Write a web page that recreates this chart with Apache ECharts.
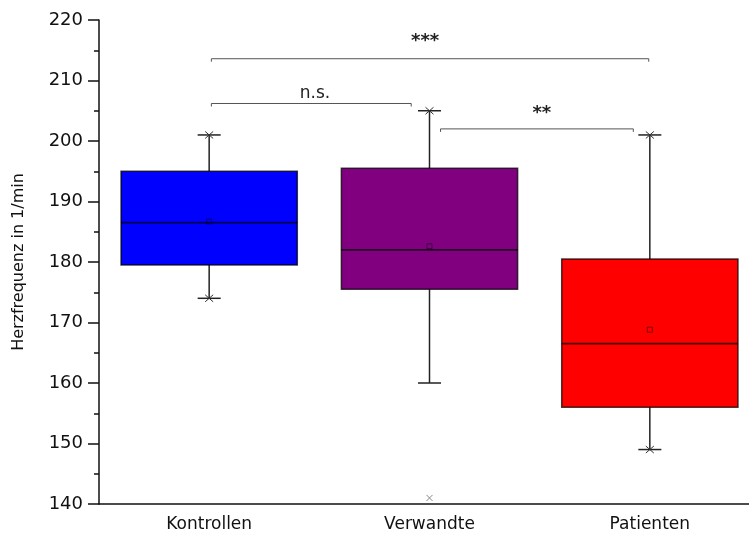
<!DOCTYPE html>
<html><head><meta charset="utf-8">
<script src="https://cdn.jsdelivr.net/npm/echarts@6/dist/echarts.min.js"></script>
<style>html,body{margin:0;padding:0;background:#fff}#c{width:749px;height:541px}</style>
</head><body><div id="c"></div>
<script>
// ---- data ----
const categories = ['Kontrollen', 'Verwandte', 'Patienten'];
const boxColors = ['#0000ff', '#800080', '#ff0000'];
// [whiskerLow, Q1, median, Q3, whiskerHigh]
const kontrollenBox = [174, 179.5, 186.5, 195, 201];
const verwandteBox = [160, 175.5, 182, 195.5, 205];
const patientenBox = [149, 156, 166.5, 180.5, 201];
const means = [186.7, 182.6, 168.8];
const extremeMarks = [[0, 174], [0, 201], [1, 205], [2, 149], [2, 201]];
const outliers = [[1, 141]];
const yMin = 140, yMax = 220, yStep = 10;
// significance brackets: [xFrom, xTo, y]
const brackets = [[0.01, 1.995, 213.6], [0.01, 0.917, 206.2], [1.05, 1.925, 202.0]];
// bracket labels: [x, y, text]
const bracketLabels = [[0.98, 216.5, '***'], [0.48, 207.8, 'n.s.'], [1.51, 204.6, '**']];
const yAxisTitle = 'Herzfrequenz in 1/min';

const boxes = [kontrollenBox, verwandteBox, patientenBox];
const FONT = '"DejaVu Sans", Arial, sans-serif';
const AX = '#111';

const chart = echarts.init(document.getElementById('c'), null, {renderer: 'canvas'});

function boxRender(params, api) {
  const i = api.value(0);
  const lo = api.coord([i, api.value(1)]);
  const q1 = api.coord([i, api.value(2)]);
  const med = api.coord([i, api.value(3)]);
  const q3 = api.coord([i, api.value(4)]);
  const hi = api.coord([i, api.value(5)]);
  const cx = lo[0];
  const halfW = api.size([0.8, 0])[0] / 2;
  const cap = 11.5;
  const wStyle = {stroke: '#222', lineWidth: 1.5};
  return {
    type: 'group',
    children: [
      {type: 'line', shape: {x1: cx, y1: hi[1], x2: cx, y2: q3[1]}, style: wStyle},
      {type: 'line', shape: {x1: cx, y1: q1[1], x2: cx, y2: lo[1]}, style: wStyle},
      {type: 'line', shape: {x1: cx - cap, y1: hi[1], x2: cx + cap, y2: hi[1]}, style: wStyle},
      {type: 'line', shape: {x1: cx - cap, y1: lo[1], x2: cx + cap, y2: lo[1]}, style: wStyle},
      {type: 'rect', shape: {x: cx - halfW, y: q3[1], width: 2 * halfW, height: q1[1] - q3[1]},
        style: {fill: boxColors[i], stroke: 'rgba(0,0,0,0.72)', lineWidth: 1.5}},
      {type: 'line', shape: {x1: cx - halfW, y1: med[1], x2: cx + halfW, y2: med[1]},
        style: {stroke: 'rgba(0,0,0,0.72)', lineWidth: 1.8}}
    ]
  };
}

function crossRender(color, hx, hy, lw) {
  return function (params, api) {
    const p = api.coord([api.value(0), api.value(1)]);
    const st = {stroke: color, lineWidth: lw};
    return {
      type: 'group',
      children: [
        {type: 'line', shape: {x1: p[0] - hx, y1: p[1] - hy, x2: p[0] + hx, y2: p[1] + hy}, style: st},
        {type: 'line', shape: {x1: p[0] - hx, y1: p[1] + hy, x2: p[0] + hx, y2: p[1] - hy}, style: st}
      ]
    };
  };
}

function bracketRender(params, api) {
  const a = api.coord([api.value(0), api.value(2)]);
  const b = api.coord([api.value(1), api.value(2)]);
  const drop = 3;
  return {
    type: 'polyline',
    shape: {points: [[a[0], a[1] + drop], [a[0], a[1]], [b[0], b[1]], [b[0], b[1] + drop]]},
    style: {stroke: '#555', lineWidth: 1, fill: null}
  };
}

function labelRender(params, api) {
  const p = api.coord([api.value(0), api.value(1)]);
  const txt = bracketLabels[params.dataIndex][2];
  const star = txt.indexOf('*') >= 0;
  const font = (star ? 'bold 18px ' : '17px ') + FONT;
  return {
    type: 'text', x: p[0], y: p[1],
    style: {text: txt, fill: '#222', font: font, align: 'center', verticalAlign: 'middle'}
  };
}

chart.setOption({
  animation: false,
  backgroundColor: '#fff',
  grid: {left: 99, width: 661, top: 20, bottom: 37, containLabel: false, outerBoundsMode: 'none'},
  xAxis: [
    {
      type: 'category', data: categories, boundaryGap: true,
      axisLine: {lineStyle: {color: AX, width: 1.5}},
      axisTick: {alignWithLabel: true, length: 7, lineStyle: {color: AX, width: 1.5}},
      axisLabel: {fontSize: 17, color: '#111', margin: 12, fontFamily: FONT},
      splitLine: {show: false}
    },
    {type: 'value', min: -0.5, max: 2.5, show: false}
  ],
  yAxis: {
    type: 'value', min: yMin, max: yMax, interval: yStep,
    name: yAxisTitle, nameLocation: 'middle', nameGap: 72,
    nameTextStyle: {fontSize: 16, color: '#111', fontFamily: FONT},
    axisLine: {show: true, onZero: false, lineStyle: {color: AX, width: 1.5}},
    axisTick: {show: true, length: 11, lineStyle: {color: AX, width: 1.5}},
    minorTick: {show: true, splitNumber: 2, length: 5, lineStyle: {color: AX, width: 1.5}},
    axisLabel: {fontSize: 18, color: '#111', margin: 16, fontFamily: FONT},
    splitLine: {show: false}
  },
  series: [
    {
      type: 'custom', xAxisIndex: 1, renderItem: boxRender,
      encode: {x: 0, y: [1, 2, 3, 4, 5]},
      data: boxes.map((b, i) => [i].concat(b))
    },
    {
      type: 'custom', xAxisIndex: 1, renderItem: crossRender('#333', 4, 3.5, 1),
      encode: {x: 0, y: 1}, data: extremeMarks
    },
    {
      type: 'custom', xAxisIndex: 1, renderItem: crossRender('#888', 3, 3, 1),
      encode: {x: 0, y: 1}, data: outliers
    },
    {
      type: 'scatter', xAxisIndex: 1, symbol: 'rect', symbolSize: 5,
      itemStyle: {color: 'transparent', borderColor: 'rgba(0,0,0,0.6)', borderWidth: 1},
      data: means.map((m, i) => [i, m]), z: 5
    },
    {
      type: 'custom', xAxisIndex: 1, renderItem: bracketRender,
      encode: {x: [0, 1], y: 2}, data: brackets
    },
    {
      type: 'custom', xAxisIndex: 1, renderItem: labelRender,
      encode: {x: 0, y: 1}, data: bracketLabels.map(l => [l[0], l[1]])
    }
  ]
});
</script></body></html>
